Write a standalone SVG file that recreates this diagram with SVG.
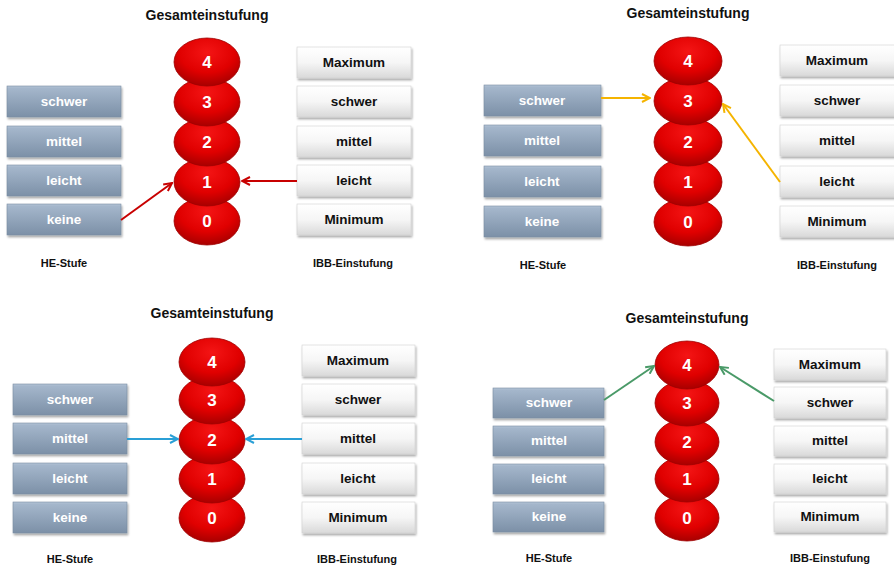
<svg xmlns="http://www.w3.org/2000/svg" width="894" height="567" viewBox="0 0 894 567">
<defs>
<linearGradient id="gBlue" x1="0" y1="0" x2="0" y2="1">
<stop offset="0" stop-color="#B3C3D6"/><stop offset="0.08" stop-color="#A4B6CB"/><stop offset="1" stop-color="#7C90A7"/>
</linearGradient>
<linearGradient id="gWhite" x1="0" y1="0" x2="0" y2="1">
<stop offset="0" stop-color="#FFFFFF"/><stop offset="0.5" stop-color="#F6F6F6"/><stop offset="1" stop-color="#D9D9D9"/>
</linearGradient>
<radialGradient id="gRed" cx="0.5" cy="0.3" r="0.7">
<stop offset="0" stop-color="#F41515"/><stop offset="0.6" stop-color="#E00000"/><stop offset="1" stop-color="#A80000"/>
</radialGradient>
<filter id="sh" x="-10%" y="-20%" width="125%" height="160%">
<feDropShadow dx="1" dy="2" stdDeviation="1.2" flood-color="#000" flood-opacity="0.35"/>
</filter>
<marker id="mRed" viewBox="0 0 10 10" refX="9" refY="5" markerWidth="10" markerHeight="10" markerUnits="userSpaceOnUse" orient="auto"><path d="M1,1 L9,5 L1,9" fill="none" stroke="#C80000" stroke-width="2"/></marker>
<marker id="mYel" viewBox="0 0 10 10" refX="9" refY="5" markerWidth="10" markerHeight="10" markerUnits="userSpaceOnUse" orient="auto"><path d="M1,1 L9,5 L1,9" fill="none" stroke="#F5B400" stroke-width="2"/></marker>
<marker id="mBlu" viewBox="0 0 10 10" refX="9" refY="5" markerWidth="10" markerHeight="10" markerUnits="userSpaceOnUse" orient="auto"><path d="M1,1 L9,5 L1,9" fill="none" stroke="#2A9FD6" stroke-width="2"/></marker>
<marker id="mGrn" viewBox="0 0 10 10" refX="9" refY="5" markerWidth="10" markerHeight="10" markerUnits="userSpaceOnUse" orient="auto"><path d="M1,1 L9,5 L1,9" fill="none" stroke="#4A9A68" stroke-width="2"/></marker>
</defs>
<style>
text{font-family:"Liberation Sans",Arial,sans-serif;font-weight:bold;text-anchor:middle}
.he rect{fill:url(#gBlue);stroke:#7A8DA2;stroke-width:0.6;filter:url(#sh)}
.he text{fill:#FFFFFF;font-size:13.5px}
.ibb rect{fill:url(#gWhite);stroke:#CFCFCF;stroke-width:0.6;filter:url(#sh)}
.ibb text{fill:#111111;font-size:13.5px}
.ov ellipse{fill:url(#gRed);stroke:#9E0000;stroke-width:0.8}
.ov text{fill:#FFFFFF;font-size:17px}
.title{fill:#111111;font-size:14px}
.lab{fill:#111111;font-size:11px}
.c{fill:none;stroke-width:2}
</style>

<!-- Panel 1 -->
<g id="p1">
<text id="p1-title" class="title" x="207" y="20">Gesamteinstufung</text>
<g id="p1-he-schwer" class="he"><rect x="7" y="86" width="114" height="31"/><text x="64" y="106">schwer</text></g>
<g id="p1-he-mittel" class="he"><rect x="7" y="126" width="114" height="31"/><text x="64" y="146">mittel</text></g>
<g id="p1-he-leicht" class="he"><rect x="7" y="165" width="114" height="31"/><text x="64" y="185">leicht</text></g>
<g id="p1-he-keine" class="he"><rect x="7" y="204" width="114" height="31"/><text x="64" y="224">keine</text></g>
<g id="p1-g0" class="ov"><ellipse cx="207" cy="221" rx="33" ry="24"/><text x="207" y="227">0</text></g>
<g id="p1-g1" class="ov"><ellipse cx="207" cy="182" rx="33" ry="24"/><text x="207" y="188">1</text></g>
<g id="p1-g2" class="ov"><ellipse cx="207" cy="142" rx="33" ry="24"/><text x="207" y="148">2</text></g>
<g id="p1-g3" class="ov"><ellipse cx="207" cy="102" rx="33" ry="24"/><text x="207" y="108">3</text></g>
<g id="p1-g4" class="ov"><ellipse cx="207" cy="62" rx="33" ry="24"/><text x="207" y="68">4</text></g>
<g id="p1-ibb-max" class="ibb"><rect x="297" y="47" width="114" height="31"/><text x="354" y="67">Maximum</text></g>
<g id="p1-ibb-schwer" class="ibb"><rect x="297" y="86" width="114" height="31"/><text x="354" y="106">schwer</text></g>
<g id="p1-ibb-mittel" class="ibb"><rect x="297" y="126" width="114" height="31"/><text x="354" y="146">mittel</text></g>
<g id="p1-ibb-leicht" class="ibb"><rect x="297" y="165" width="114" height="31"/><text x="354" y="185">leicht</text></g>
<g id="p1-ibb-min" class="ibb"><rect x="297" y="204" width="114" height="31"/><text x="354" y="224">Minimum</text></g>
<text id="p1-lab-he" class="lab" x="64" y="267">HE-Stufe</text>
<text id="p1-lab-ibb" class="lab" x="353" y="267">IBB-Einstufung</text>
</g>

<!-- Panel 2 -->
<g id="p2">
<text id="p2-title" class="title" x="688" y="18">Gesamteinstufung</text>
<g id="p2-he-schwer" class="he"><rect x="484" y="85" width="117" height="31"/><text x="542" y="105">schwer</text></g>
<g id="p2-he-mittel" class="he"><rect x="484" y="125" width="117" height="31"/><text x="542" y="145">mittel</text></g>
<g id="p2-he-leicht" class="he"><rect x="484" y="166" width="117" height="31"/><text x="542" y="186">leicht</text></g>
<g id="p2-he-keine" class="he"><rect x="484" y="206" width="117" height="31"/><text x="542" y="226">keine</text></g>
<g id="p2-g0" class="ov"><ellipse cx="688" cy="222" rx="34" ry="24"/><text x="688" y="228">0</text></g>
<g id="p2-g1" class="ov"><ellipse cx="688" cy="182" rx="34" ry="24"/><text x="688" y="188">1</text></g>
<g id="p2-g2" class="ov"><ellipse cx="688" cy="142" rx="34" ry="24"/><text x="688" y="148">2</text></g>
<g id="p2-g3" class="ov"><ellipse cx="688" cy="101" rx="34" ry="24"/><text x="688" y="107">3</text></g>
<g id="p2-g4" class="ov"><ellipse cx="688" cy="61" rx="34" ry="24"/><text x="688" y="67">4</text></g>
<g id="p2-ibb-max" class="ibb"><rect x="780" y="45" width="116" height="31"/><text x="837" y="65">Maximum</text></g>
<g id="p2-ibb-schwer" class="ibb"><rect x="780" y="85" width="116" height="31"/><text x="837" y="105">schwer</text></g>
<g id="p2-ibb-mittel" class="ibb"><rect x="780" y="125" width="116" height="31"/><text x="837" y="145">mittel</text></g>
<g id="p2-ibb-leicht" class="ibb"><rect x="780" y="166" width="116" height="31"/><text x="837" y="186">leicht</text></g>
<g id="p2-ibb-min" class="ibb"><rect x="780" y="206" width="116" height="31"/><text x="837" y="226">Minimum</text></g>
<text id="p2-lab-he" class="lab" x="543" y="269">HE-Stufe</text>
<text id="p2-lab-ibb" class="lab" x="837" y="269">IBB-Einstufung</text>
</g>

<!-- Panel 3 -->
<g id="p3">
<text id="p3-title" class="title" x="212" y="318">Gesamteinstufung</text>
<g id="p3-he-schwer" class="he"><rect x="13" y="384" width="114" height="31"/><text x="70" y="404">schwer</text></g>
<g id="p3-he-mittel" class="he"><rect x="13" y="423" width="114" height="31"/><text x="70" y="443">mittel</text></g>
<g id="p3-he-leicht" class="he"><rect x="13" y="463" width="114" height="31"/><text x="70" y="483">leicht</text></g>
<g id="p3-he-keine" class="he"><rect x="13" y="502" width="114" height="31"/><text x="70" y="522">keine</text></g>
<g id="p3-g0" class="ov"><ellipse cx="212" cy="518" rx="33" ry="24"/><text x="212" y="524">0</text></g>
<g id="p3-g1" class="ov"><ellipse cx="212" cy="479" rx="33" ry="24"/><text x="212" y="485">1</text></g>
<g id="p3-g2" class="ov"><ellipse cx="212" cy="440" rx="33" ry="24"/><text x="212" y="446">2</text></g>
<g id="p3-g3" class="ov"><ellipse cx="212" cy="400" rx="33" ry="24"/><text x="212" y="406">3</text></g>
<g id="p3-g4" class="ov"><ellipse cx="212" cy="362" rx="33" ry="24"/><text x="212" y="368">4</text></g>
<g id="p3-ibb-max" class="ibb"><rect x="302" y="345" width="113" height="31"/><text x="358" y="365">Maximum</text></g>
<g id="p3-ibb-schwer" class="ibb"><rect x="302" y="384" width="113" height="31"/><text x="358" y="404">schwer</text></g>
<g id="p3-ibb-mittel" class="ibb"><rect x="302" y="423" width="113" height="31"/><text x="358" y="443">mittel</text></g>
<g id="p3-ibb-leicht" class="ibb"><rect x="302" y="463" width="113" height="31"/><text x="358" y="483">leicht</text></g>
<g id="p3-ibb-min" class="ibb"><rect x="302" y="502" width="113" height="31"/><text x="358" y="522">Minimum</text></g>
<text id="p3-lab-he" class="lab" x="70" y="563">HE-Stufe</text>
<text id="p3-lab-ibb" class="lab" x="357" y="563">IBB-Einstufung</text>
</g>

<!-- Panel 4 -->
<g id="p4">
<text id="p4-title" class="title" x="687" y="323">Gesamteinstufung</text>
<g id="p4-he-schwer" class="he"><rect x="493" y="388" width="111" height="30"/><text x="549" y="407">schwer</text></g>
<g id="p4-he-mittel" class="he"><rect x="493" y="426" width="111" height="30"/><text x="549" y="445">mittel</text></g>
<g id="p4-he-leicht" class="he"><rect x="493" y="464" width="111" height="30"/><text x="549" y="483">leicht</text></g>
<g id="p4-he-keine" class="he"><rect x="493" y="502" width="111" height="30"/><text x="549" y="521">keine</text></g>
<g id="p4-g0" class="ov"><ellipse cx="687" cy="518" rx="32" ry="23"/><text x="687" y="524">0</text></g>
<g id="p4-g1" class="ov"><ellipse cx="687" cy="479" rx="32" ry="23"/><text x="687" y="485">1</text></g>
<g id="p4-g2" class="ov"><ellipse cx="687" cy="442" rx="32" ry="23"/><text x="687" y="448">2</text></g>
<g id="p4-g3" class="ov"><ellipse cx="687" cy="403" rx="32" ry="23"/><text x="687" y="409">3</text></g>
<g id="p4-g4" class="ov"><ellipse cx="687" cy="365" rx="32" ry="24"/><text x="687" y="371">4</text></g>
<g id="p4-ibb-max" class="ibb"><rect x="774" y="349" width="112" height="31"/><text x="830" y="369">Maximum</text></g>
<g id="p4-ibb-schwer" class="ibb"><rect x="774" y="387" width="112" height="31"/><text x="830" y="407">schwer</text></g>
<g id="p4-ibb-mittel" class="ibb"><rect x="774" y="426" width="112" height="30"/><text x="830" y="445">mittel</text></g>
<g id="p4-ibb-leicht" class="ibb"><rect x="774" y="464" width="112" height="30"/><text x="830" y="483">leicht</text></g>
<g id="p4-ibb-min" class="ibb"><rect x="774" y="502" width="112" height="30"/><text x="830" y="521">Minimum</text></g>
<text id="p4-lab-he" class="lab" x="549" y="562">HE-Stufe</text>
<text id="p4-lab-ibb" class="lab" x="830" y="562">IBB-Einstufung</text>
</g>

<g id="connectors">
<line class="c" x1="121" y1="220" x2="172" y2="183" stroke="#C80000" marker-end="url(#mRed)"/>
<line class="c" x1="297" y1="181" x2="242" y2="181" stroke="#C80000" marker-end="url(#mRed)"/>
<line class="c" x1="601" y1="98" x2="650" y2="98" stroke="#F5B400" marker-end="url(#mYel)"/>
<line class="c" x1="780" y1="182" x2="723" y2="104" stroke="#F5B400" marker-end="url(#mYel)"/>
<line class="c" x1="127" y1="439" x2="178" y2="439" stroke="#2A9FD6" marker-end="url(#mBlu)"/>
<line class="c" x1="302" y1="439" x2="246" y2="439" stroke="#2A9FD6" marker-end="url(#mBlu)"/>
<line class="c" x1="604" y1="400" x2="654" y2="366" stroke="#4A9A68" marker-end="url(#mGrn)"/>
<line class="c" x1="774" y1="401" x2="720" y2="367" stroke="#4A9A68" marker-end="url(#mGrn)"/>
</g>
</svg>
